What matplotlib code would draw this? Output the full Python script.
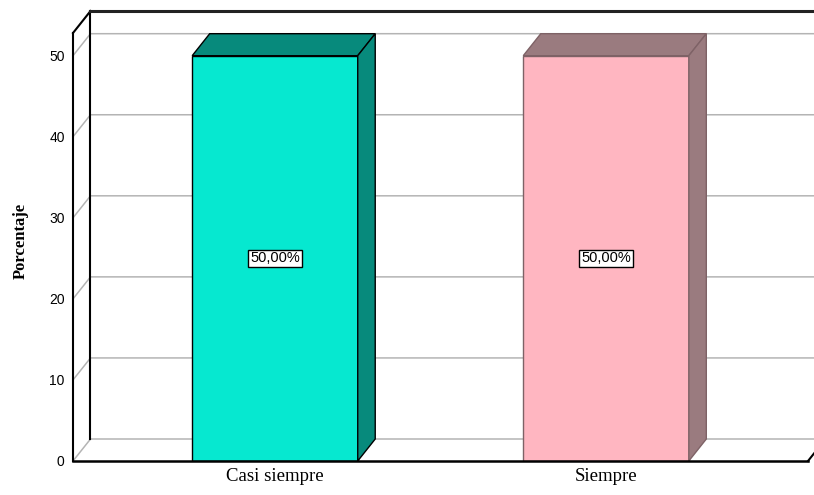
import matplotlib
matplotlib.use("Agg")
import matplotlib.pyplot as plt

# Data
categories = ["Casi siempre", "Siempre"]
percentages = [50.0, 50.0]
y_ticks = [0, 10, 20, 30, 40, 50]
front_colors = ["#06E8D0", "#FFB6C1"]
shade_colors = ["#078A7C", "#9A7B7F"]
edge_colors = ["#000000", "#7E6266"]

fig = plt.figure(figsize=(8.14, 4.95), dpi=100)
ax = fig.add_axes([73 / 814, 34 / 495, 735 / 814, 428 / 495])

xmin, xmax = -0.61, 1.61
ymin, ymax = 0, 52.8
ax.set_xlim(xmin, xmax)
ax.set_ylim(ymin, ymax)

# depth of the pseudo-3D box expressed in data units
DX = 17.5 / 735 * (xmax - xmin)
DY = 22 / 428 * (ymax - ymin)

for s in ax.spines.values():
    s.set_visible(False)

grid_c = "#B4B4B4"
# gridlines: diagonal on the left wall, horizontal on the back wall
for v in y_ticks:
    ax.plot([xmin, xmin + DX, xmax + DX], [v, v + DY, v + DY],
            color=grid_c, lw=1.1, clip_on=False, zorder=1)

# box frame
k = "#000000"
ax.plot([xmin, xmin], [ymin, ymax], color=k, lw=1.5, clip_on=False, zorder=2)
ax.plot([xmin + DX, xmin + DX], [ymin + DY, ymax + DY], color=k, lw=1.5,
        clip_on=False, zorder=2)
ax.plot([xmin, xmin + DX], [ymax, ymax + DY], color=k, lw=1.5,
        clip_on=False, zorder=2)
ax.plot([xmin + DX, xmax + DX], [ymax + DY, ymax + DY], color="#222222",
        lw=2.2, clip_on=False, zorder=2)
ax.plot([xmin, xmax], [ymin, ymin], color=k, lw=1.8, clip_on=False, zorder=5)
ax.plot([xmax, xmax + DX], [ymin, ymin + DY], color=k, lw=1.5,
        clip_on=False, zorder=5)

# bars
xs = list(range(len(categories)))
w = 0.5
bars = ax.bar(xs, percentages, width=w, color=front_colors,
              edgecolor=edge_colors, linewidth=1, zorder=3)
for x, v, fc, sc, ec in zip(xs, percentages, front_colors, shade_colors,
                            edge_colors):
    x0, x1 = x - w / 2, x + w / 2
    # top face
    ax.fill([x0, x1, x1 + DX, x0 + DX], [v, v, v + DY, v + DY],
            facecolor=sc, edgecolor=ec, lw=1, zorder=3, clip_on=False)
    # side face
    ax.fill([x1, x1 + DX, x1 + DX, x1], [0, DY, v + DY, v],
            facecolor=sc, edgecolor=ec, lw=1, zorder=3, clip_on=False)
    label = f"{v:.2f}%".replace(".", ",")
    ax.text(x, v / 2, label, ha="center", va="center",
            family="Liberation Sans", fontsize=10.5, zorder=6,
            bbox=dict(boxstyle="square,pad=0.12", fc="white", ec="black",
                      lw=1))

# axis labels and ticks
ax.set_yticks(y_ticks)
ax.set_yticklabels([str(t) for t in y_ticks], family="Liberation Sans",
                   fontsize=10)
ax.set_xticks(xs)
ax.set_xticklabels(categories, family="Liberation Serif", fontsize=13.5)
ax.tick_params(axis="y", length=0, pad=6)
ax.tick_params(axis="x", length=0, pad=5)

ax.set_ylabel("Porcentaje", family="Liberation Serif", fontweight="bold",
              fontsize=12, va="center")
ax.yaxis.set_label_coords(-0.0707, 0.513)

fig.savefig("out.png", dpi=100)
